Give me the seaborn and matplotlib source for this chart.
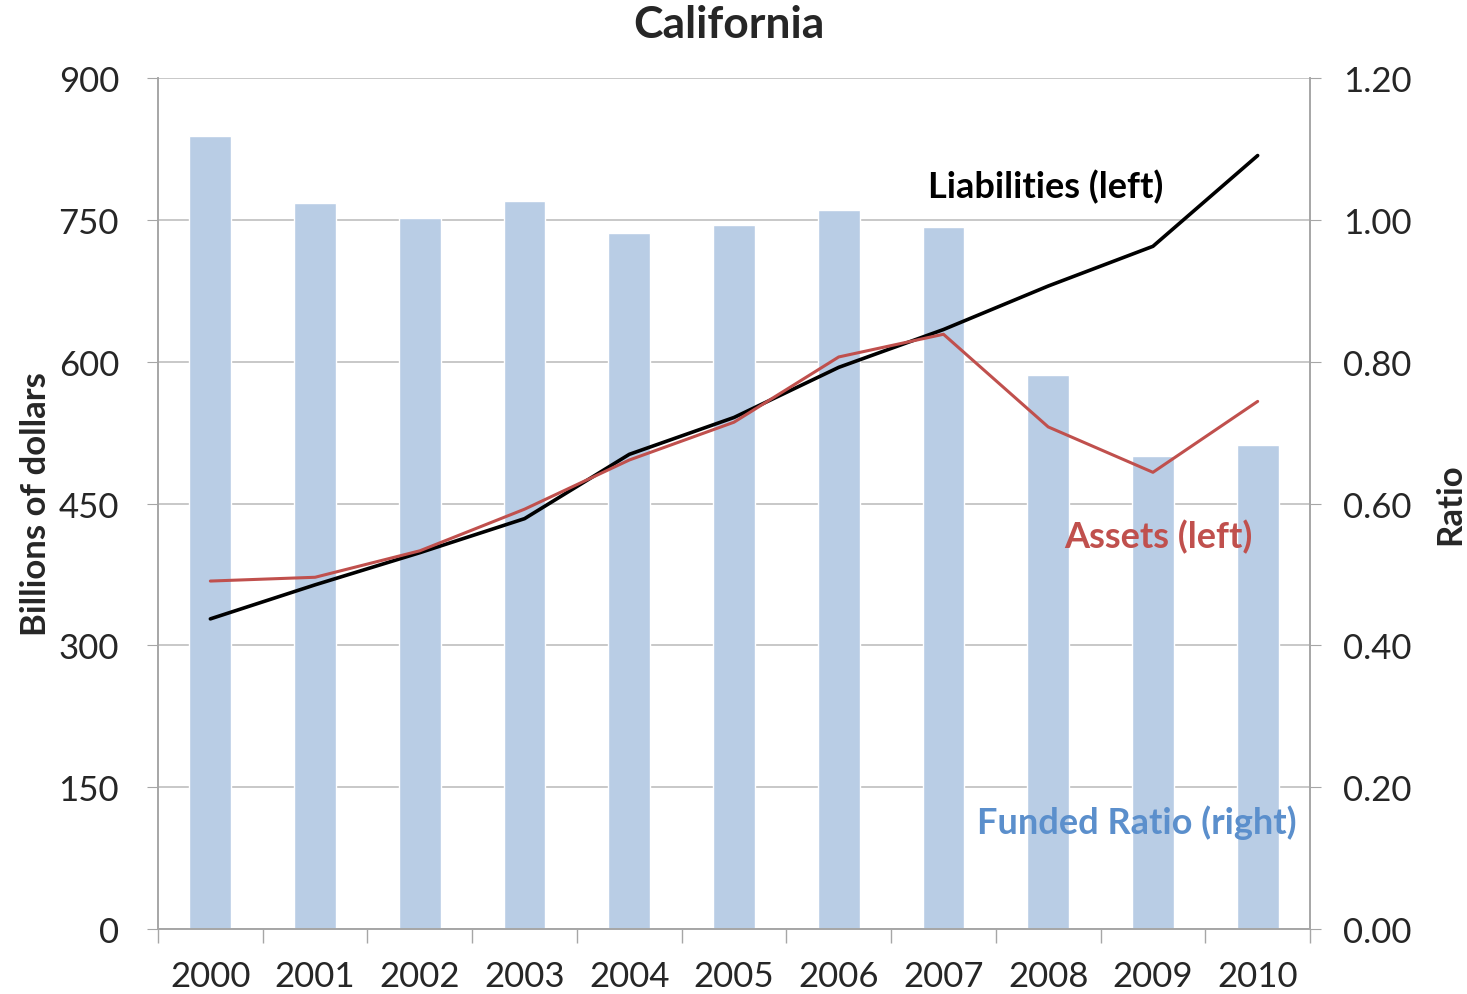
import numpy as np
import pandas as pd
import matplotlib
matplotlib.use("Agg")
import matplotlib.pyplot as plt
import seaborn as sns

# -----------------------------
# Data
# -----------------------------
years = ["2000", "2001", "2002", "2003", "2004", "2005",
         "2006", "2007", "2008", "2009", "2010"]
funded_ratio = [1.118, 1.024, 1.003, 1.027, 0.981, 0.993,
                1.014, 0.990, 0.781, 0.667, 0.683]
liabilities = [328, 364, 398, 434, 502, 541, 594, 634, 680, 722, 818]
assets = [368, 372, 400, 444, 496, 536, 605, 629, 531, 483, 558]

left_ticks = [0, 150, 300, 450, 600, 750, 900]
right_ticks = [0.0, 0.2, 0.4, 0.6, 0.8, 1.0, 1.2]

sns.set_style("white")
plt.rcParams["font.family"] = ["Lato", "DejaVu Sans"]

df = pd.DataFrame({"Year": years, "Ratio": funded_ratio,
                   "Liabilities": liabilities, "Assets": assets})
df["pos"] = np.arange(len(years))

fig = plt.figure(figsize=(14.67, 9.95), dpi=100)
ax2 = fig.add_axes([0.1077, 0.0653, 0.7853, 0.8553])  # bars, drawn underneath
ax = ax2.twinx()                                        # lines, drawn on top
# swap sides: ax carries the left scale, ax2 the right one
ax.yaxis.tick_left()
ax.yaxis.set_label_position("left")
ax2.yaxis.tick_right()
ax2.yaxis.set_label_position("right")

grey = "#A6A6A6"

# -----------------------------
# Bars: funded ratio (right)
# -----------------------------
sns.barplot(data=df, x="Year", y="Ratio", color="#B9CDE5", saturation=1,
            width=0.4, ax=ax2, zorder=2)
ax2.set_ylim(0, 1.2)
ax2.set_yticks(right_ticks)
ax2.set_yticklabels([f"{t:.2f}" for t in right_ticks])
ax2.yaxis.grid(True, color="#BFBFBF", linewidth=1.2, zorder=0)
ax2.set_axisbelow(True)
ax2.set_ylabel("Ratio", fontsize=25, fontweight="bold", labelpad=16)
ax2.set_xlabel("")

# -----------------------------
# Lines: liabilities & assets (left)
# -----------------------------
sns.lineplot(data=df, x="pos", y="Liabilities", color="black", linewidth=2.6, ax=ax)
sns.lineplot(data=df, x="pos", y="Assets", color="#C0504D", linewidth=2.2, ax=ax)
ax.set_ylim(0, 900)
ax.set_yticks(left_ticks)
ax.set_ylabel("Billions of dollars", fontsize=25, fontweight="bold", labelpad=5)
ax.set_xlabel("")
ax.set_xlim(-0.5, len(years) - 0.5)
ax2.set_xlim(-0.5, len(years) - 0.5)

ax.set_zorder(ax2.get_zorder() + 1)
ax.patch.set_visible(False)

# x ticks: labels at categories, tick marks between them
ax2.set_xticks(np.arange(len(years)))
ax2.set_xticklabels(years)
ax2.set_xticks(np.arange(len(years) + 1) - 0.5, minor=True)
ax2.tick_params(axis="x", which="major", bottom=False, length=0,
                labelsize=25, pad=22)
ax2.tick_params(axis="x", which="minor", bottom=True, direction="out",
                length=10, color=grey, width=1)
ax.tick_params(axis="x", which="both", bottom=False, labelbottom=False)

ax.tick_params(axis="y", left=True, direction="out", labelsize=25,
               length=8, color=grey, pad=20)
ax2.tick_params(axis="y", right=True, direction="out", labelsize=25,
                length=8, color=grey, pad=16)

for a in (ax, ax2):
    for side in ("left", "right", "bottom"):
        a.spines[side].set_color(grey)
        a.spines[side].set_linewidth(1.2)
    a.spines["top"].set_visible(False)

# -----------------------------
# Annotations and title
# -----------------------------
ax.text(7.98, 786, "Liabilities (left)", fontsize=26, fontweight="bold",
        color="black", ha="center", va="center")
ax.text(9.05, 416, "Assets (left)", fontsize=26, fontweight="bold",
        color="#C0504D", ha="center", va="center")
ax.text(8.85, 114, "Funded Ratio (right)", fontsize=26, fontweight="bold",
        color="#5B8FCC", ha="center", va="center")

fig.suptitle("California", fontsize=32, fontweight="bold", x=0.497, y=0.995, va="top")

fig.savefig("out.png", dpi=100)
